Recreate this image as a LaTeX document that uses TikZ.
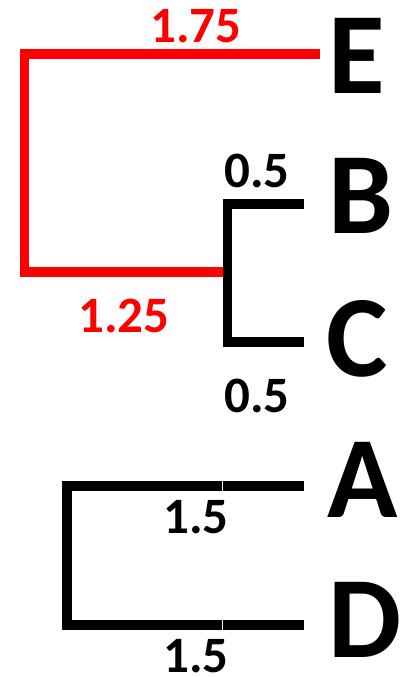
\documentclass[tikz,border=0pt]{standalone}
\usepackage{fontspec}
\setmainfont{Carlito}
\usepackage{tikz}
\usetikzlibrary{positioning}

\begin{document}
\begin{tikzpicture}[x=1pt, y=-1pt, line width=9.5pt]

\tikzstyle{branch}=[draw=black, line cap=butt, line join=miter]
\tikzstyle{redbranch}=[branch, draw=red]
\tikzstyle{leaf}=[anchor=base west, inner sep=0pt, font=\bfseries\fontsize{116}{116}\selectfont]
\tikzstyle{len}=[anchor=base, inner sep=0pt, font=\bfseries\fontsize{51}{51}\selectfont]

\useasboundingbox (0,0) rectangle (403,677);

% line ends and corners
\coordinate (eE) at (320,54);
\coordinate (eB) at (304,204);
\coordinate (eC) at (304,342);
\coordinate (eA) at (304,486);
\coordinate (eD) at (304,625);
\coordinate (r1) at (24.5,54);
\coordinate (r2) at (24.5,272);
\coordinate (jBC) at (223,272);
\coordinate (b1) at (227.5,204);
\coordinate (b2) at (227.5,342);
\coordinate (a1) at (67,486);
\coordinate (a2) at (67,625);
\coordinate (gA) at (221.5,486);
\coordinate (hA) at (222.5,486);
\coordinate (gD) at (221.5,625);
\coordinate (hD) at (222.5,625);

% leaves
\node[leaf] (E) at (324,93) {E};
\node[leaf] (B) at (324,233) {B};
\node[leaf] (C) at (322,376) {C};
\node[leaf] (A) at (323,517) {A};
\node[leaf] (D) at (324,657) {D};

% branches
\draw[redbranch] (eE) -- (r1) -- (r2) -- (jBC);
\draw[branch] (eB) -- (b1) -- (b2) -- (eC);
\draw[branch] (gA) -- (a1) -- (a2) -- (gD);
\draw[branch] (hA) -- (eA);
\draw[branch] (hD) -- (eD);

% branch lengths
\node[len, text=red] (lE) at (196,43) {1.75};
\node[len, text=red] (lBC) at (124,332) {1.25};
\node[len] (lB) at (257,187) {0.5};
\node[len] (lC) at (257,412) {0.5};
\node[len] (lA) at (196,533) {1.5};
\node[len] (lD) at (196,672) {1.5};

\end{tikzpicture}
\end{document}
